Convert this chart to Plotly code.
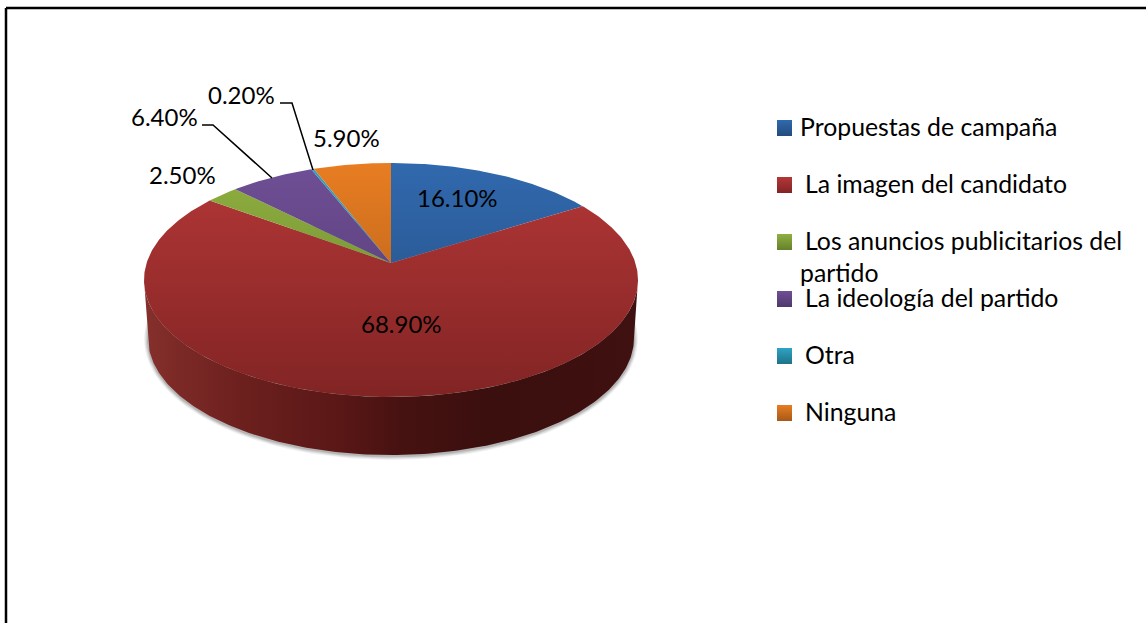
import numpy as np
import plotly.graph_objects as go

categories = ["Propuestas de campaña", "La imagen del candidato", "Los anuncios publicitarios del<br>partido",
              "La ideología del partido", "Otra", "Ninguna"]
values = [16.1, 68.9, 2.5, 6.4, 0.2, 5.9]
value_labels = ["16.10%", "68.90%", "2.50%", "6.40%", "0.20%", "5.90%"]
light = ["#3169ae", "#b43737", "#8fb040", "#6f4f96", "#2ea3c4", "#e87d22"]
dark = ["#234b7d", "#822424", "#67802c", "#4f386c", "#1f7288", "#a65918"]

FONT = "Lato"
CX, CY, RX, RY = 391, 280, 247, 117
AX, AY = 391, 263
BCY, BRX, BRY = 338, 243, 117
TOP, BOT = CY - RY, CY + RY

fig = go.Figure()


def ellipse(cy, rx, ry, a0, a1, n=200):
    t = np.radians(np.linspace(a0, a1, n))
    return CX + rx * np.sin(t), cy - ry * np.cos(t)


# soft shadow round the base
for grow, op in [(4, 0.10), (3, 0.15), (2, 0.22), (1, 0.30)]:
    x, y = ellipse(BCY + 1, BRX + grow, BRY + grow, 0, 360)
    fig.add_trace(go.Scatter(x=x, y=y, mode="lines", line_width=0, fill="toself",
                             fillcolor="#808080", opacity=op, hoverinfo="skip", showlegend=False))

# side wall
xt, yt = ellipse(CY, RX, RY, 90, 270)
xb, yb = ellipse(BCY, BRX, BRY, 270, 90)
fig.add_trace(go.Scatter(
    x=np.r_[xt, xb], y=np.r_[yt, yb], mode="lines", line_width=0, fill="toself",
    fillgradient=dict(type="horizontal", start=CX - RX, stop=CX + RX,
                      colorscale=[[0, "#85302c"], [0.06, "#7d2a27"], [0.2, "#6c201e"], [0.4, "#591716"],
                                  [0.52, "#461211"], [0.7, "#3a0f0e"], [1, "#3f1110"]]),
    hoverinfo="skip", showlegend=False))


def rim(theta):
    dx, dy = RX * np.sin(theta), -RY * np.cos(theta)
    a = (dx / RX) ** 2 + (dy / RY) ** 2
    b = 2 * ((AX - CX) * dx / RX ** 2 + (AY - CY) * dy / RY ** 2)
    c = ((AX - CX) / RX) ** 2 + ((AY - CY) / RY) ** 2 - 1
    t = (-b + np.sqrt(b * b - 4 * a * c)) / (2 * a)
    return AX + t * dx, AY + t * dy


# top face: every slice is derived from its share of the total
edges = np.r_[0, np.cumsum(values)] / sum(values) * 2 * np.pi
for i, cat in enumerate(categories):
    th = np.linspace(edges[i], edges[i + 1], max(int(values[i] * 6), 4))
    rx_, ry_ = rim(th)
    fig.add_trace(go.Scatter(
        x=np.r_[AX, rx_, AX], y=np.r_[AY, ry_, AY], mode="lines", line_width=0, fill="toself",
        fillgradient=dict(type="vertical", start=TOP, stop=BOT,
                          colorscale=[[0, light[i]], [1, dark[i]]]),
        name=cat.replace("<br>", " "), showlegend=False, hoverinfo="name"))

# value labels
label_pos = [(457, 197), (401, 323), (182, 174), (164, 116), (241, 94), (346, 137)]
for txt, (x, y) in zip(value_labels, label_pos):
    fig.add_annotation(x=x, y=y, text=txt, showarrow=False, xanchor="center", yanchor="middle",
                       font=dict(family=FONT, size=24, color="#000000"))

# leader lines
for lx, ly in [([280, 292, 313], [103, 103, 170]), ([202, 213, 272], [125, 125, 178])]:
    fig.add_trace(go.Scatter(x=lx, y=ly, mode="lines", line=dict(color="#000000", width=1.5),
                             hoverinfo="skip", showlegend=False))

# legend
legend_y = [128, 185, 242, 299, 356, 413]
text_x = [798, 803, 803, 803, 803, 803]
LEGEND_SIZE = 24.8
for i, cat in enumerate(categories):
    y0 = legend_y[i]
    fig.add_trace(go.Scatter(
        x=[777, 792, 792, 777, 777], y=[y0 - 8, y0 - 8, y0 + 8, y0 + 8, y0 - 8], mode="lines",
        line_width=0, fill="toself",
        fillgradient=dict(type="vertical", start=y0 - 8, stop=y0 + 8,
                          colorscale=[[0, light[i]], [1, dark[i]]]),
        hoverinfo="skip", showlegend=False))
    if "<br>" in cat:
        first, second = cat.split("<br>")
        fig.add_annotation(x=text_x[i], y=y0 - 2, text=first, showarrow=False, xanchor="left", yanchor="middle",
                           font=dict(family=FONT, size=LEGEND_SIZE, color="#000000"))
        fig.add_annotation(x=798, y=y0 + 30, text=second, showarrow=False, xanchor="left", yanchor="middle",
                           font=dict(family=FONT, size=LEGEND_SIZE, color="#000000"))
    else:
        fig.add_annotation(x=text_x[i], y=y0 - 2, text=cat, showarrow=False, xanchor="left", yanchor="middle",
                           font=dict(family=FONT, size=LEGEND_SIZE, color="#000000"))

# frame: top and left only
fig.add_shape(type="line", x0=6, x1=1146, y0=8, y1=8, line=dict(color="#000000", width=2.5))
fig.add_shape(type="line", x0=6, x1=6, y0=8, y1=623, line=dict(color="#000000", width=2.5))

fig.update_layout(
    width=1146, height=623, margin=dict(l=0, r=0, t=0, b=0),
    paper_bgcolor="#ffffff", plot_bgcolor="#ffffff", showlegend=False,
    xaxis=dict(range=[0, 1146], visible=False, fixedrange=True),
    yaxis=dict(range=[623, 0], visible=False, fixedrange=True),
)
fig.write_html("out.html", post_script="document.body.style.margin='0';document.body.style.overflow='hidden';",
               config={"displayModeBar": False})
